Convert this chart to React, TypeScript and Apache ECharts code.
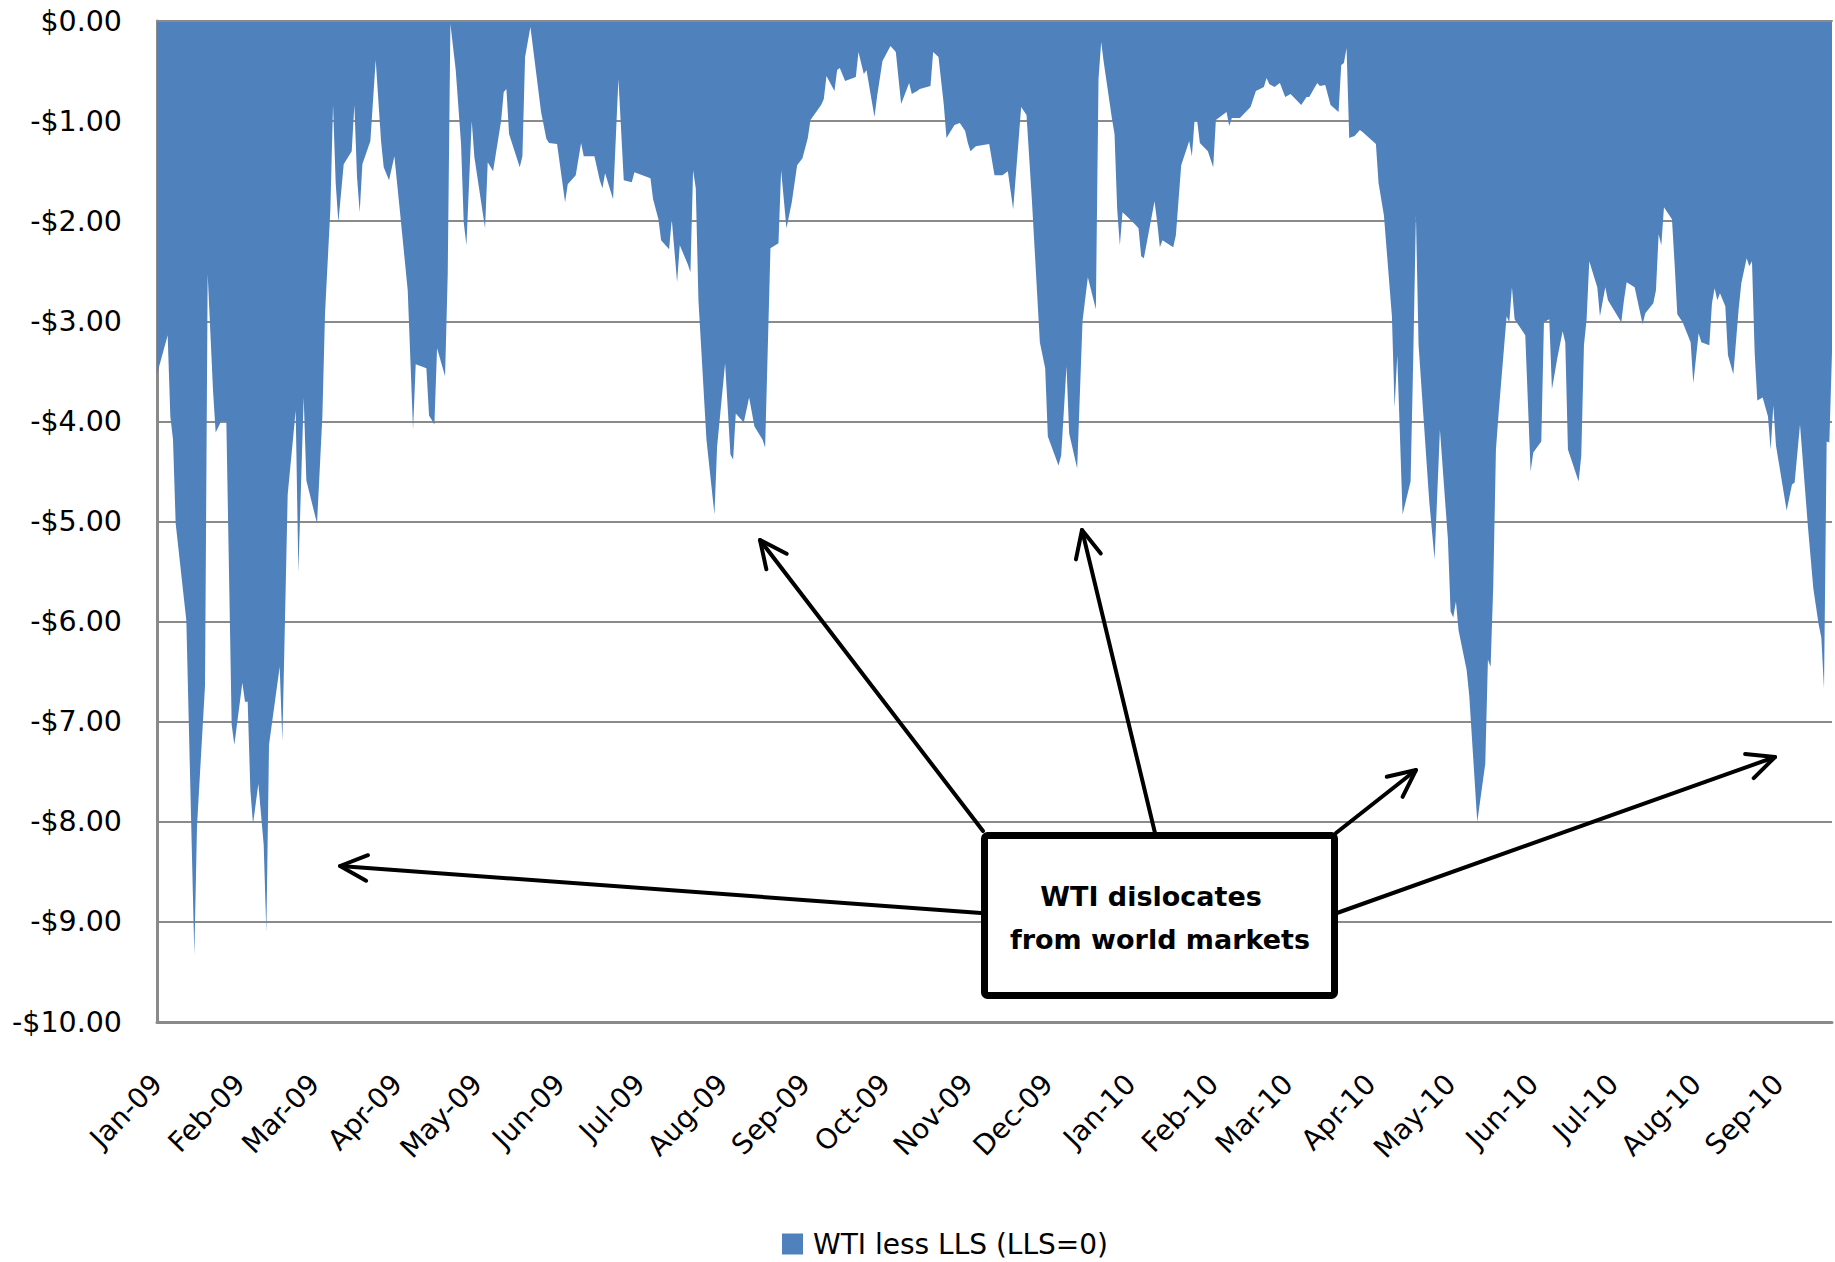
import React, { useEffect, useRef } from "react";
import * as echarts from "echarts";

// Daily axis range and series label
const startDate = "2009-01-01";
const endDate = "2010-09-21";
const seriesName = "WTI less LLS (LLS=0)";

// Month tick labels, one per first-of-month on the axis
const monthLabels = [
  "Jan-09", "Feb-09", "Mar-09", "Apr-09", "May-09", "Jun-09", "Jul-09", "Aug-09", "Sep-09",
  "Oct-09", "Nov-09", "Dec-09", "Jan-10", "Feb-10", "Mar-10", "Apr-10", "May-10", "Jun-10",
  "Jul-10", "Aug-10", "Sep-10",
];

// WTI minus LLS spread, $/bbl
const spread2009: [string, number][] = [
  ["2009-01-01", -3.53], ["2009-01-05", -3.14], ["2009-01-06", -3.95], ["2009-01-07", -4.18],
  ["2009-01-08", -5.02], ["2009-01-12", -5.99], ["2009-01-15", -9.33], ["2009-01-16", -8.04],
  ["2009-01-19", -6.64], ["2009-01-20", -2.53], ["2009-01-22", -3.69], ["2009-01-23", -4.11],
  ["2009-01-25", -4.0], ["2009-01-27", -4.0], ["2009-01-29", -7.03], ["2009-01-30", -7.23],
  ["2009-02-02", -6.61], ["2009-02-03", -6.8], ["2009-02-04", -6.8], ["2009-02-05", -7.68],
  ["2009-02-06", -8.02], ["2009-02-08", -7.62], ["2009-02-10", -8.23], ["2009-02-11", -9.1],
  ["2009-02-12", -7.23], ["2009-02-16", -6.45], ["2009-02-17", -7.19], ["2009-02-19", -4.73],
  ["2009-02-22", -3.89], ["2009-02-23", -5.51], ["2009-02-25", -3.76], ["2009-02-26", -4.59],
  ["2009-03-02", -5.02], ["2009-03-04", -3.95], ["2009-03-05", -2.92], ["2009-03-07", -1.88],
  ["2009-03-08", -0.84], ["2009-03-09", -1.62], ["2009-03-10", -2.01], ["2009-03-12", -1.43],
  ["2009-03-15", -1.3], ["2009-03-16", -0.84], ["2009-03-17", -1.56], ["2009-03-18", -1.91],
  ["2009-03-19", -1.43], ["2009-03-22", -1.2], ["2009-03-24", -0.39], ["2009-03-26", -1.2],
  ["2009-03-27", -1.46], ["2009-03-29", -1.59], ["2009-03-31", -1.35], ["2009-04-02", -1.88],
  ["2009-04-05", -2.69], ["2009-04-07", -4.08], ["2009-04-08", -3.43], ["2009-04-12", -3.47],
  ["2009-04-13", -3.94], ["2009-04-15", -4.03], ["2009-04-16", -3.27], ["2009-04-19", -3.55],
  ["2009-04-20", -2.53], ["2009-04-21", -0.03], ["2009-04-23", -0.49], ["2009-04-25", -1.23],
  ["2009-04-26", -2.01], ["2009-04-27", -2.24], ["2009-04-29", -1.0], ["2009-04-30", -1.36],
  ["2009-05-04", -2.07], ["2009-05-05", -1.41], ["2009-05-07", -1.5], ["2009-05-10", -1.0],
  ["2009-05-11", -0.71], ["2009-05-12", -0.68], ["2009-05-13", -1.13], ["2009-05-17", -1.46],
  ["2009-05-18", -1.35], ["2009-05-19", -0.36], ["2009-05-21", -0.06], ["2009-05-25", -0.91],
  ["2009-05-27", -1.18], ["2009-05-28", -1.22], ["2009-05-31", -1.23], ["2009-06-03", -1.81],
  ["2009-06-04", -1.63], ["2009-06-07", -1.54], ["2009-06-09", -1.22], ["2009-06-10", -1.35],
  ["2009-06-14", -1.35], ["2009-06-16", -1.59], ["2009-06-17", -1.67], ["2009-06-18", -1.52],
  ["2009-06-21", -1.78], ["2009-06-23", -0.58], ["2009-06-25", -1.59], ["2009-06-28", -1.61],
  ["2009-06-29", -1.51], ["2009-07-05", -1.57], ["2009-07-06", -1.78], ["2009-07-08", -1.98],
  ["2009-07-09", -2.19], ["2009-07-12", -2.28], ["2009-07-13", -1.98], ["2009-07-15", -2.61],
  ["2009-07-16", -2.24], ["2009-07-19", -2.43], ["2009-07-20", -2.51], ["2009-07-21", -1.49],
  ["2009-07-22", -1.67], ["2009-07-23", -2.79], ["2009-07-26", -4.18], ["2009-07-29", -4.93],
  ["2009-07-30", -4.25], ["2009-08-02", -3.42], ["2009-08-04", -4.33], ["2009-08-05", -4.38],
  ["2009-08-06", -3.92], ["2009-08-09", -4.01], ["2009-08-11", -3.76], ["2009-08-13", -4.05],
  ["2009-08-16", -4.18], ["2009-08-17", -4.26], ["2009-08-19", -2.27], ["2009-08-22", -2.22],
  ["2009-08-23", -1.49], ["2009-08-25", -2.07], ["2009-08-27", -1.81], ["2009-08-29", -1.44],
  ["2009-08-31", -1.37], ["2009-09-02", -1.17], ["2009-09-03", -0.99], ["2009-09-07", -0.84],
  ["2009-09-08", -0.78], ["2009-09-09", -0.55], ["2009-09-12", -0.7], ["2009-09-13", -0.49],
  ["2009-09-14", -0.47], ["2009-09-16", -0.6], ["2009-09-20", -0.56], ["2009-09-21", -0.31],
  ["2009-09-23", -0.53], ["2009-09-24", -0.49], ["2009-09-27", -0.96], ["2009-09-28", -0.75],
  ["2009-09-30", -0.4], ["2009-10-03", -0.25], ["2009-10-05", -0.31], ["2009-10-07", -0.83],
  ["2009-10-10", -0.62], ["2009-10-11", -0.73], ["2009-10-13", -0.7], ["2009-10-14", -0.68],
  ["2009-10-18", -0.65], ["2009-10-19", -0.31], ["2009-10-21", -0.36], ["2009-10-23", -0.84],
  ["2009-10-24", -1.17], ["2009-10-27", -1.04], ["2009-10-29", -1.02], ["2009-10-31", -1.1],
  ["2009-11-01", -1.22], ["2009-11-02", -1.3], ["2009-11-04", -1.25], ["2009-11-09", -1.23],
  ["2009-11-11", -1.54], ["2009-11-14", -1.54], ["2009-11-16", -1.5], ["2009-11-18", -1.88],
  ["2009-11-21", -0.86], ["2009-11-23", -0.94], ["2009-11-25", -1.78], ["2009-11-28", -3.21],
  ["2009-11-30", -3.47], ["2009-12-01", -4.15], ["2009-12-05", -4.44], ["2009-12-06", -4.34],
  ["2009-12-08", -3.45], ["2009-12-09", -4.12], ["2009-12-12", -4.47], ["2009-12-14", -3.0],
  ["2009-12-16", -2.56], ["2009-12-19", -2.88], ["2009-12-20", -0.58], ["2009-12-21", -0.21],
  ["2009-12-22", -0.42], ["2009-12-25", -0.97], ["2009-12-26", -1.13], ["2009-12-27", -1.88],
  ["2009-12-28", -2.24], ["2009-12-29", -1.91], ["2009-12-31", -1.96],
];

const spread2010: [string, number][] = [
  ["2010-01-03", -2.04], ["2010-01-04", -2.07], ["2010-01-05", -2.35], ["2010-01-06", -2.37],
  ["2010-01-10", -1.8], ["2010-01-11", -2.01], ["2010-01-12", -2.26], ["2010-01-13", -2.19],
  ["2010-01-17", -2.26], ["2010-01-18", -2.14], ["2010-01-20", -1.44], ["2010-01-23", -1.2],
  ["2010-01-24", -1.35], ["2010-01-25", -1.0], ["2010-01-26", -1.0], ["2010-01-27", -1.22],
  ["2010-01-30", -1.3], ["2010-02-01", -1.46], ["2010-02-02", -0.99], ["2010-02-06", -0.91],
  ["2010-02-07", -1.05], ["2010-02-08", -0.97], ["2010-02-11", -0.97], ["2010-02-15", -0.86],
  ["2010-02-17", -0.7], ["2010-02-20", -0.66], ["2010-02-21", -0.57], ["2010-02-22", -0.63],
  ["2010-02-24", -0.66], ["2010-02-26", -0.62], ["2010-02-28", -0.76], ["2010-03-02", -0.73],
  ["2010-03-06", -0.84], ["2010-03-08", -0.76], ["2010-03-09", -0.76], ["2010-03-12", -0.62],
  ["2010-03-13", -0.65], ["2010-03-15", -0.64], ["2010-03-17", -0.84], ["2010-03-20", -0.91],
  ["2010-03-21", -0.44], ["2010-03-22", -0.42], ["2010-03-23", -0.27], ["2010-03-24", -1.17],
  ["2010-03-26", -1.15], ["2010-03-28", -1.09], ["2010-03-29", -1.11], ["2010-04-03", -1.23],
  ["2010-04-04", -1.62], ["2010-04-06", -1.94], ["2010-04-09", -2.95], ["2010-04-10", -3.86],
  ["2010-04-11", -3.34], ["2010-04-13", -4.93], ["2010-04-16", -4.6], ["2010-04-17", -3.37],
  ["2010-04-18", -1.94], ["2010-04-19", -3.24], ["2010-04-21", -4.02], ["2010-04-23", -4.8],
  ["2010-04-25", -5.38], ["2010-04-27", -4.08], ["2010-04-30", -5.18], ["2010-05-01", -5.9],
  ["2010-05-02", -5.96], ["2010-05-03", -5.8], ["2010-05-04", -6.09], ["2010-05-07", -6.48],
  ["2010-05-08", -6.74], ["2010-05-11", -8.0], ["2010-05-14", -7.42], ["2010-05-15", -6.38],
  ["2010-05-16", -6.45], ["2010-05-17", -5.64], ["2010-05-18", -4.28], ["2010-05-19", -3.92],
  ["2010-05-22", -2.95], ["2010-05-23", -3.01], ["2010-05-24", -2.66], ["2010-05-25", -2.98],
  ["2010-05-29", -3.14], ["2010-05-31", -4.5], ["2010-06-01", -4.31], ["2010-06-04", -4.2],
  ["2010-06-05", -3.01], ["2010-06-07", -2.98], ["2010-06-08", -3.68], ["2010-06-10", -3.37],
  ["2010-06-12", -3.1], ["2010-06-13", -3.21], ["2010-06-14", -4.28], ["2010-06-18", -4.6],
  ["2010-06-19", -4.34], ["2010-06-20", -3.24], ["2010-06-21", -2.98], ["2010-06-22", -2.4],
  ["2010-06-25", -2.66], ["2010-06-26", -2.95], ["2010-06-28", -2.66], ["2010-06-29", -2.79],
  ["2010-07-04", -3.01], ["2010-07-05", -2.79], ["2010-07-06", -2.61], ["2010-07-09", -2.66],
  ["2010-07-12", -3.03], ["2010-07-13", -2.92], ["2010-07-16", -2.82], ["2010-07-17", -2.69],
  ["2010-07-18", -2.13], ["2010-07-19", -2.24], ["2010-07-20", -1.86], ["2010-07-23", -1.98],
  ["2010-07-24", -2.43], ["2010-07-25", -2.93], ["2010-07-27", -3.01], ["2010-07-30", -3.21],
  ["2010-07-31", -3.62], ["2010-08-02", -3.12], ["2010-08-03", -3.21], ["2010-08-06", -3.24],
  ["2010-08-07", -2.82], ["2010-08-08", -2.67], ["2010-08-09", -2.79], ["2010-08-10", -2.72],
  ["2010-08-12", -2.85], ["2010-08-13", -3.34], ["2010-08-15", -3.53], ["2010-08-17", -2.88],
  ["2010-08-18", -2.62], ["2010-08-20", -2.37], ["2010-08-21", -2.45], ["2010-08-22", -2.4],
  ["2010-08-23", -3.31], ["2010-08-24", -3.79], ["2010-08-26", -3.76], ["2010-08-28", -3.95],
  ["2010-08-29", -4.28], ["2010-08-30", -3.84], ["2010-08-31", -4.24], ["2010-09-04", -4.89],
  ["2010-09-06", -4.63], ["2010-09-07", -4.61], ["2010-09-09", -4.03], ["2010-09-12", -5.06],
  ["2010-09-14", -5.67], ["2010-09-16", -6.03], ["2010-09-17", -6.16], ["2010-09-18", -6.67],
  ["2010-09-19", -4.2], ["2010-09-20", -4.21], ["2010-09-21", -3.31],
];

const calloutLines = ["WTI dislocates", "from world markets"];

const BLUE = "#4F81BD";
const GRID_GRAY = "#8A8A8A";
const FONT = '"DejaVu Sans", sans-serif';

// One category per calendar day so that spacing follows real time
function buildDays(from: string, to: string): string[] {
  const out: string[] = [];
  const end = Date.parse(to + "T00:00:00Z");
  for (let t = Date.parse(from + "T00:00:00Z"); t <= end; t += 86400000) {
    out.push(new Date(t).toISOString().slice(0, 10));
  }
  return out;
}

function monthLabel(day: string): string {
  const [y, m] = day.split("-").map(Number);
  return monthLabels[(y - 2009) * 12 + (m - 1)] ?? "";
}

// Arrow from (x1, y1) to head at (x2, y2), drawn as a shaft plus an open V head
function arrow(x1: number, y1: number, x2: number, y2: number) {
  const ang = Math.atan2(y2 - y1, x2 - x1);
  const len = 30;
  const spread = 0.44;
  const a = [x2 - len * Math.cos(ang - spread), y2 - len * Math.sin(ang - spread)];
  const b = [x2 - len * Math.cos(ang + spread), y2 - len * Math.sin(ang + spread)];
  const style = { stroke: "#000", lineWidth: 4, fill: null, lineCap: "round", lineJoin: "round" };
  return [
    { type: "line", z: 50, shape: { x1, y1, x2, y2 }, style },
    { type: "polyline", z: 50, shape: { points: [a, [x2, y2], b] }, style },
  ];
}

export default function App() {
  const ref = useRef<HTMLDivElement>(null);

  useEffect(() => {
    if (!ref.current) return;
    const chart = echarts.init(ref.current, undefined, { renderer: "svg" });

    const days = buildDays(startDate, endDate);
    const index = new Map(days.map((d, i) => [d, i]));
    const values: (number | null)[] = new Array(days.length).fill(null);
    for (const [d, v] of [...spread2009, ...spread2010]) {
      const i = index.get(d);
      if (i !== undefined) values[i] = v;
    }

    const isMonthStart = (_: number, value: string) => value.endsWith("-01");

    chart.setOption({
      animation: false,
      backgroundColor: "#fff",
      grid: { left: 157, right: 3, top: 21, bottom: 240, containLabel: false },
      legend: {
        left: 777,
        top: 1225,
        itemWidth: 21,
        itemHeight: 21,
        textStyle: { fontFamily: FONT, fontSize: 28, color: "#000", padding: [0, 0, 0, 5] },
        data: [{ name: seriesName, icon: "rect", itemStyle: { color: BLUE, opacity: 1 } }],
      },
      xAxis: [
        {
          type: "category",
          data: days,
          boundaryGap: false,
          axisLine: { onZero: false, lineStyle: { color: GRID_GRAY, width: 3 } },
          axisTick: { show: false },
          axisLabel: {
            interval: isMonthStart,
            formatter: monthLabel,
            rotate: 46,
            margin: 57,
            fontFamily: FONT,
            fontSize: 28,
            color: "#000",
            hideOverlap: false,
          },
          splitLine: { show: false },
        },
        {
          type: "category",
          data: days,
          position: "top",
          boundaryGap: false,
          z: 10,
          axisLine: { onZero: false, lineStyle: { color: GRID_GRAY, width: 2 } },
          axisTick: { show: false },
          axisLabel: { show: false },
          splitLine: { show: false },
        },
      ],
      yAxis: {
        type: "value",
        min: -10,
        max: 0,
        interval: 1,
        axisLine: { show: true, lineStyle: { color: GRID_GRAY, width: 3 } },
        axisTick: { show: false },
        axisLabel: {
          margin: 35,
          fontFamily: FONT,
          fontSize: 28.5,
          color: "#000",
          formatter: (v: number) => (v < 0 ? "-$" : "$") + Math.abs(v).toFixed(2),
        },
        splitLine: { show: true, lineStyle: { color: GRID_GRAY, width: 2 } },
      },
      series: [
        {
          name: seriesName,
          type: "line",
          data: values,
          connectNulls: true,
          showSymbol: false,
          symbol: "none",
          color: BLUE,
          lineStyle: { width: 0, color: BLUE },
          areaStyle: { color: BLUE, opacity: 1, origin: "end" },
          emphasis: { disabled: true },
          z: 2,
        },
      ],
      graphic: [
        ...arrow(981, 913, 340, 866),
        ...arrow(983, 831, 760, 540),
        ...arrow(1155, 833, 1082, 530),
        ...arrow(1336, 833, 1416, 770),
        ...arrow(1337, 913, 1775, 757),
        {
          type: "rect",
          z: 60,
          shape: { x: 984.5, y: 835.5, width: 350, height: 160, r: 3 },
          style: { fill: "#fff", stroke: "#000", lineWidth: 7 },
        },
        {
          type: "text",
          z: 61,
          x: 1151,
          y: 896,
          style: {
            text: calloutLines[0],
            font: `bold 27px ${FONT}`,
            fill: "#000",
            align: "center",
            verticalAlign: "middle",
          },
        },
        {
          type: "text",
          z: 61,
          x: 1160,
          y: 939,
          style: {
            text: calloutLines[1],
            font: `bold 27px ${FONT}`,
            fill: "#000",
            align: "center",
            verticalAlign: "middle",
          },
        },
      ],
    });

    return () => chart.dispose();
  }, []);

  return (
    <div
      ref={ref}
      style={{ position: "fixed", left: 0, top: 0, width: 1835, height: 1262, background: "#fff" }}
    />
  );
}
